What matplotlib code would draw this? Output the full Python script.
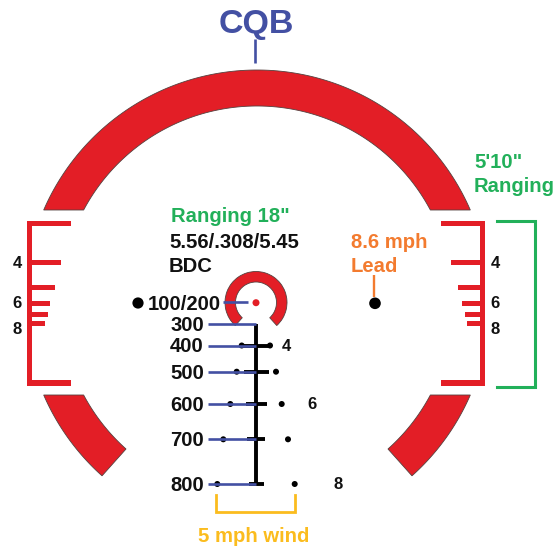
import matplotlib
matplotlib.use('Agg')
import numpy as np
import matplotlib.pyplot as plt
from matplotlib.patches import Polygon, Wedge, Circle

plt.rcParams['font.family'] = ['Liberation Sans', 'DejaVu Sans']

RED = '#e31e26'
BLUE = '#4350a3'
GREEN = '#22b05a'
ORANGE = '#f37b2f'
YELLOW = '#fbbc1e'
INK = '#111111'
LABEL = 14.6
SMALL = 12

# all geometry is in image pixels, y pointing down
cx, cy = 257, 302.5
r_out, r_in = 232.5, 196.5
cut_top, cut_bot = 210, 395
end_angle = 48.2   # degrees below horizontal where the lower arc segments stop

# bdc ladder
ranges = ['300', '400', '500', '600', '700', '800']
range_y = [324, 345.5, 371.7, 404, 439.3, 484]
stem_x = 256
tick_left = [None, 241.7, 244, 246, 247.3, 248.7]
tick_right = [None, 270, 268.7, 266.7, 265.3, 264]
dot_left = [None, 241.7, 236.7, 230.3, 223.3, 217.3]
dot_right = [None, 270, 276, 281.7, 288, 294.7]

# ranging stadia on the side brackets
stadia_y = [262.7, 287, 303, 314.3, 323]
stadia_left_end = [60.7, 54.7, 50.3, 47.7, 45.3]
stadia_right_end = [451.3, 457.7, 462, 464.7, 467]
stadia_labels = ['4', '6', '8']
stadia_label_y = [263, 303, 329]

fig = plt.figure(figsize=(5.57, 5.48), dpi=100)
ax = fig.add_axes([0, 0, 1, 1])
ax.set_xlim(0, 557)
ax.set_ylim(548, 0)
ax.axis('off')


def arc(r, a1, a2):
    t = np.radians(np.linspace(a1, a2, 120))
    return np.column_stack([cx + r*np.cos(t), cy + r*np.sin(t)])


def ang_up(r):
    return np.degrees(np.arcsin((cy - cut_top)/r))


def ang_dn(r):
    return np.degrees(np.arcsin((cut_bot - cy)/r))


def red_poly(pts):
    ax.add_patch(Polygon(pts, closed=True, fc=RED, ec='#55413f', lw=0.6, zorder=2))


def red_bar(x0, x1, y0, y1):
    ax.fill_between([x0, x1], y0, y1, color=RED, lw=0, zorder=2)


def label(x, y, s, color=INK, size=LABEL, ha='left'):
    ax.text(x, y - 1, s, fontsize=size, fontweight='bold', ha=ha, va='center_baseline', color=color)


# big top arc, y is flipped so negative angles are upward
red_poly(np.vstack([arc(r_out, 180 + ang_up(r_out), 360 - ang_up(r_out)),
                    arc(r_in, 360 - ang_up(r_in), 180 + ang_up(r_in))]))
# lower pieces
red_poly(np.vstack([arc(r_out, ang_dn(r_out), end_angle), arc(r_in, end_angle, ang_dn(r_in))]))
red_poly(np.vstack([arc(r_out, 180 - ang_dn(r_out), 180 - end_angle),
                    arc(r_in, 180 - end_angle, 180 - ang_dn(r_in))]))

# side brackets
for x0, x1 in [(27, 71), (441, 484.7)]:
    red_bar(x0, x1, 220.8, 226)
    red_bar(x0, x1, 380, 385.5)
red_bar(27, 32, 220.8, 385.5)
red_bar(480, 484.7, 220.8, 385.5)
for y, xl, xr in zip(stadia_y, stadia_left_end, stadia_right_end):
    red_bar(27, xl, y - 2.5, y + 2.5)
    red_bar(xr, 484, y - 2.5, y + 2.5)
for lab, y in zip(stadia_labels, stadia_label_y):
    label(17, y, lab, size=SMALL, ha='center')
    label(495, y, lab, size=SMALL, ha='center')

# center ring and dot
ax.add_patch(Wedge((256, 302.5), 31, 132, 408, width=10.5, fc=RED, ec='#55413f', lw=0.6, zorder=3))
ax.add_patch(Circle((256, 302.7), 3.5, fc=RED, ec='none', zorder=3))

# ladder
ax.plot([stem_x, stem_x], [range_y[0], range_y[-1]], color='black', lw=2.8, solid_capstyle='butt', zorder=4)
for i, y in enumerate(range_y):
    if tick_left[i] is not None:
        ax.plot([tick_left[i], tick_right[i]], [y, y], color='black', lw=2.8, solid_capstyle='butt', zorder=4)
        ax.add_patch(Circle((dot_left[i], y), 3, fc='black', ec='none', zorder=4))
        ax.add_patch(Circle((dot_right[i], y), 3, fc='black', ec='none', zorder=4))
    ax.plot([208.3, 256], [y, y], color=BLUE, lw=1.9, solid_capstyle='butt', zorder=5)
    label(204, y + 0.5, ranges[i], ha='right')
ax.plot([223, 248], [302, 302], color=BLUE, lw=1.9, solid_capstyle='butt', zorder=5)
label(148, 303, '100/200')
ax.add_patch(Circle((138, 303), 5.6, fc='black', ec='none'))
ax.add_patch(Circle((375, 303.3), 5.8, fc='black', ec='none'))

label(286, 346, '4', size=SMALL, ha='center')
label(312, 404, '6', size=SMALL, ha='center')
label(338, 484, '8', size=SMALL, ha='center')

# annotations
label(256.5, 22, 'CQB', color=BLUE, size=24.5, ha='center')
ax.plot([255, 255], [39, 63], color=BLUE, lw=1.9, solid_capstyle='butt')

label(171, 216, 'Ranging 18"', color=GREEN)
label(169, 242, '5.56/.308/5.45')
label(169, 265, 'BDC')

label(474, 161, '5\'10"', color=GREEN)
label(474, 185, 'Ranging', color=GREEN)
ax.plot([497, 534.7, 534.7, 497], [220.8, 220.8, 387, 387], color=GREEN, lw=2.2, solid_joinstyle='miter')

label(351, 242, '8.6 mph', color=ORANGE)
label(351, 266, 'Lead', color=ORANGE)
ax.plot([374.3, 374.3], [275, 297], color=ORANGE, lw=1.7, solid_capstyle='butt')

ax.plot([215.7, 215.7, 295.3, 295.3], [495, 512, 512, 495], color=YELLOW, lw=2, solid_joinstyle='miter')
label(254, 536, '5 mph wind', color=YELLOW, ha='center')

plt.savefig('out.png', dpi=100)
print("Done")
